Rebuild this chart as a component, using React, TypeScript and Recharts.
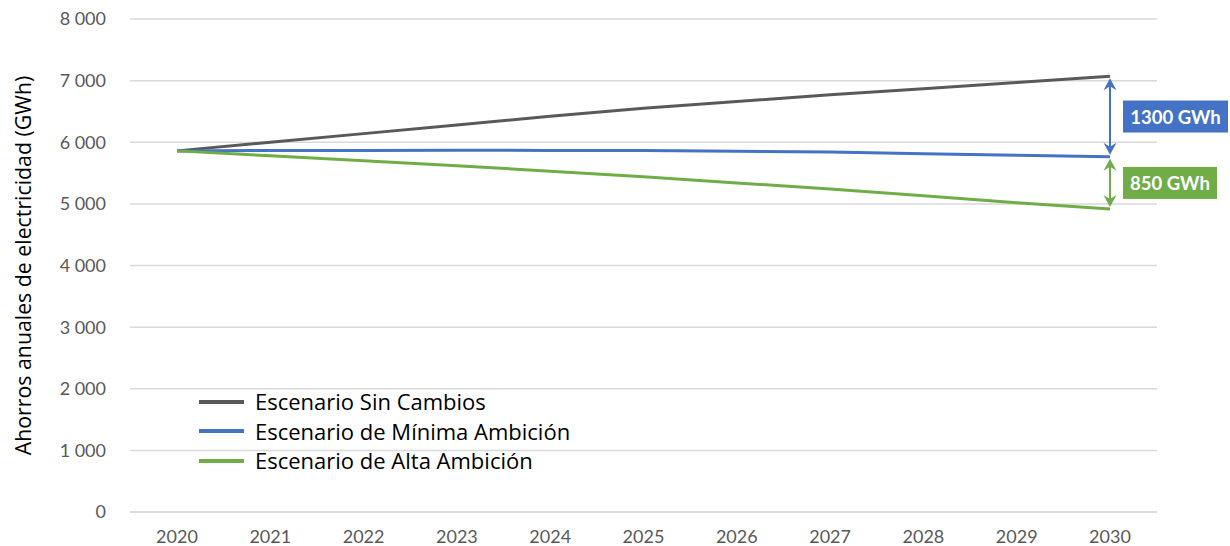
import React from "react";
import {
  CartesianGrid,
  Legend,
  Line,
  LineChart,
  ReferenceLine,
  XAxis,
  YAxis,
} from "recharts";

const years = ["2020", "2021", "2022", "2023", "2024", "2025", "2026", "2027", "2028", "2029", "2030"];
const sinCambios = [5860, 6000, 6140, 6280, 6420, 6550, 6660, 6770, 6870, 6970, 7070];
const minimaAmbicion = [5860, 5865, 5868, 5870, 5868, 5865, 5855, 5840, 5815, 5790, 5765];
const altaAmbicion = [5860, 5780, 5700, 5620, 5530, 5440, 5340, 5240, 5130, 5020, 4915];
const yTicks = [0, 1000, 2000, 3000, 4000, 5000, 6000, 7000, 8000];

const seriesNames = [
  "Escenario Sin Cambios",
  "Escenario de Mínima Ambición",
  "Escenario de Alta Ambición",
];
const gapLabels = ["1300 GWh", "850 GWh"];

const GREY = "#595959";
const BLUE = "#4472C4";
const GREEN = "#70AD47";
const FONT = "Lato, 'Noto Sans', sans-serif";
const WIDE_FONT = "'Open Sans', 'Noto Sans', sans-serif";

const data = years.map((year, i) => ({
  year,
  sin: sinCambios[i],
  minima: minimaAmbicion[i],
  alta: altaAmbicion[i],
}));

const last = years.length - 1;

const fmt = (v: number) => String(v).replace(/\B(?=(\d{3})+(?!\d))/g, " ");

function gapArrow(color: string, text: string, boxW: number) {
  return (props: any) => {
    const { x1, y1, y2 } = props;
    const top = Math.min(y1, y2) + 2;
    const bottom = Math.max(y1, y2) - 2;
    const mid = (top + bottom) / 2;
    const x = x1;
    return (
      <g>
        <line x1={x} y1={top + 4} x2={x} y2={bottom - 4} stroke={color} strokeWidth={2} />
        <path
          d={`M${x},${top} L${x - 6.5},${top + 12} L${x},${top + 8} L${x + 6.5},${top + 12} Z`}
          fill={color}
        />
        <path
          d={`M${x},${bottom} L${x - 6.5},${bottom - 12} L${x},${bottom - 8} L${x + 6.5},${bottom - 12} Z`}
          fill={color}
        />
        <rect x={x + 13} y={mid - 16} width={boxW} height={32} fill={color} />
        <text
          x={x + 13 + boxW / 2}
          y={mid}
          textAnchor="middle"
          dominantBaseline="central"
          fill="#ffffff"
          fontWeight="bold"
          fontSize={18.5}
          fontFamily={FONT}
        >
          {text}
        </text>
      </g>
    );
  };
}

const colors = [GREY, BLUE, GREEN];

function LegendBox() {
  return (
    <div style={{ fontFamily: WIDE_FONT, fontSize: 22, color: "#000" }}>
      {seriesNames.map((name, i) => (
        <div key={name} style={{ display: "flex", alignItems: "center", height: 29.5 }}>
          <div style={{ width: 45, height: 4, background: colors[i], marginRight: 11 }} />
          <span style={{ whiteSpace: "nowrap", lineHeight: "29.5px" }}>{name}</span>
        </div>
      ))}
    </div>
  );
}

function AxisTitle(props: any) {
  const { viewBox } = props;
  const cx = 22;
  const cy = viewBox.y + viewBox.height / 2;
  return (
    <text
      x={cx}
      y={cy}
      transform={`rotate(-90, ${cx}, ${cy})`}
      textAnchor="middle"
      dominantBaseline="central"
      fontSize={21.3}
      fontFamily={WIDE_FONT}
      fill="#000"
    >
      Ahorros anuales de electricidad (GWh)
    </text>
  );
}

export default function App() {
  const tickStyle = { fontSize: 18, fill: GREY, fontFamily: FONT };
  return (
    <div style={{ position: "absolute", left: 0, top: 0, background: "#fff" }}>
      <LineChart
        width={1230}
        height={546}
        data={data}
        margin={{ top: 19, right: 73, bottom: 4, left: 0 }}
      >
        <CartesianGrid vertical={false} stroke="#D9D9D9" strokeWidth={1.5} />
        <XAxis
          dataKey="year"
          axisLine={{ stroke: "#D9D9D9", strokeWidth: 1.5 }}
          tickLine={false}
          tickSize={0}
          tickMargin={18}
          height={30}
          padding={{ left: 47, right: 47 }}
          tick={tickStyle}
        />
        <YAxis
          domain={[0, 8000]}
          ticks={yTicks}
          tickFormatter={fmt}
          axisLine={false}
          tickLine={false}
          tickSize={0}
          tickMargin={24}
          width={130}
          tick={tickStyle}
          label={<AxisTitle />}
        />
        <Line
          dataKey="sin"
          name={seriesNames[0]}
          stroke={GREY}
          strokeWidth={3}
          dot={false}
          isAnimationActive={false}
        />
        <Line
          dataKey="minima"
          name={seriesNames[1]}
          stroke={BLUE}
          strokeWidth={3}
          dot={false}
          isAnimationActive={false}
        />
        <Line
          dataKey="alta"
          name={seriesNames[2]}
          stroke={GREEN}
          strokeWidth={3}
          dot={false}
          isAnimationActive={false}
        />
        <ReferenceLine
          segment={[
            { x: years[last], y: sinCambios[last] },
            { x: years[last], y: minimaAmbicion[last] },
          ]}
          shape={gapArrow(BLUE, gapLabels[0], 105)}
        />
        <ReferenceLine
          segment={[
            { x: years[last], y: minimaAmbicion[last] },
            { x: years[last], y: altaAmbicion[last] },
          ]}
          shape={gapArrow(GREEN, gapLabels[1], 94)}
        />
        <Legend
          layout="vertical"
          align="center"
          verticalAlign="middle"
          content={<LegendBox />}
          wrapperStyle={{ left: 199, top: 387, width: 460 }}
        />
      </LineChart>
    </div>
  );
}
